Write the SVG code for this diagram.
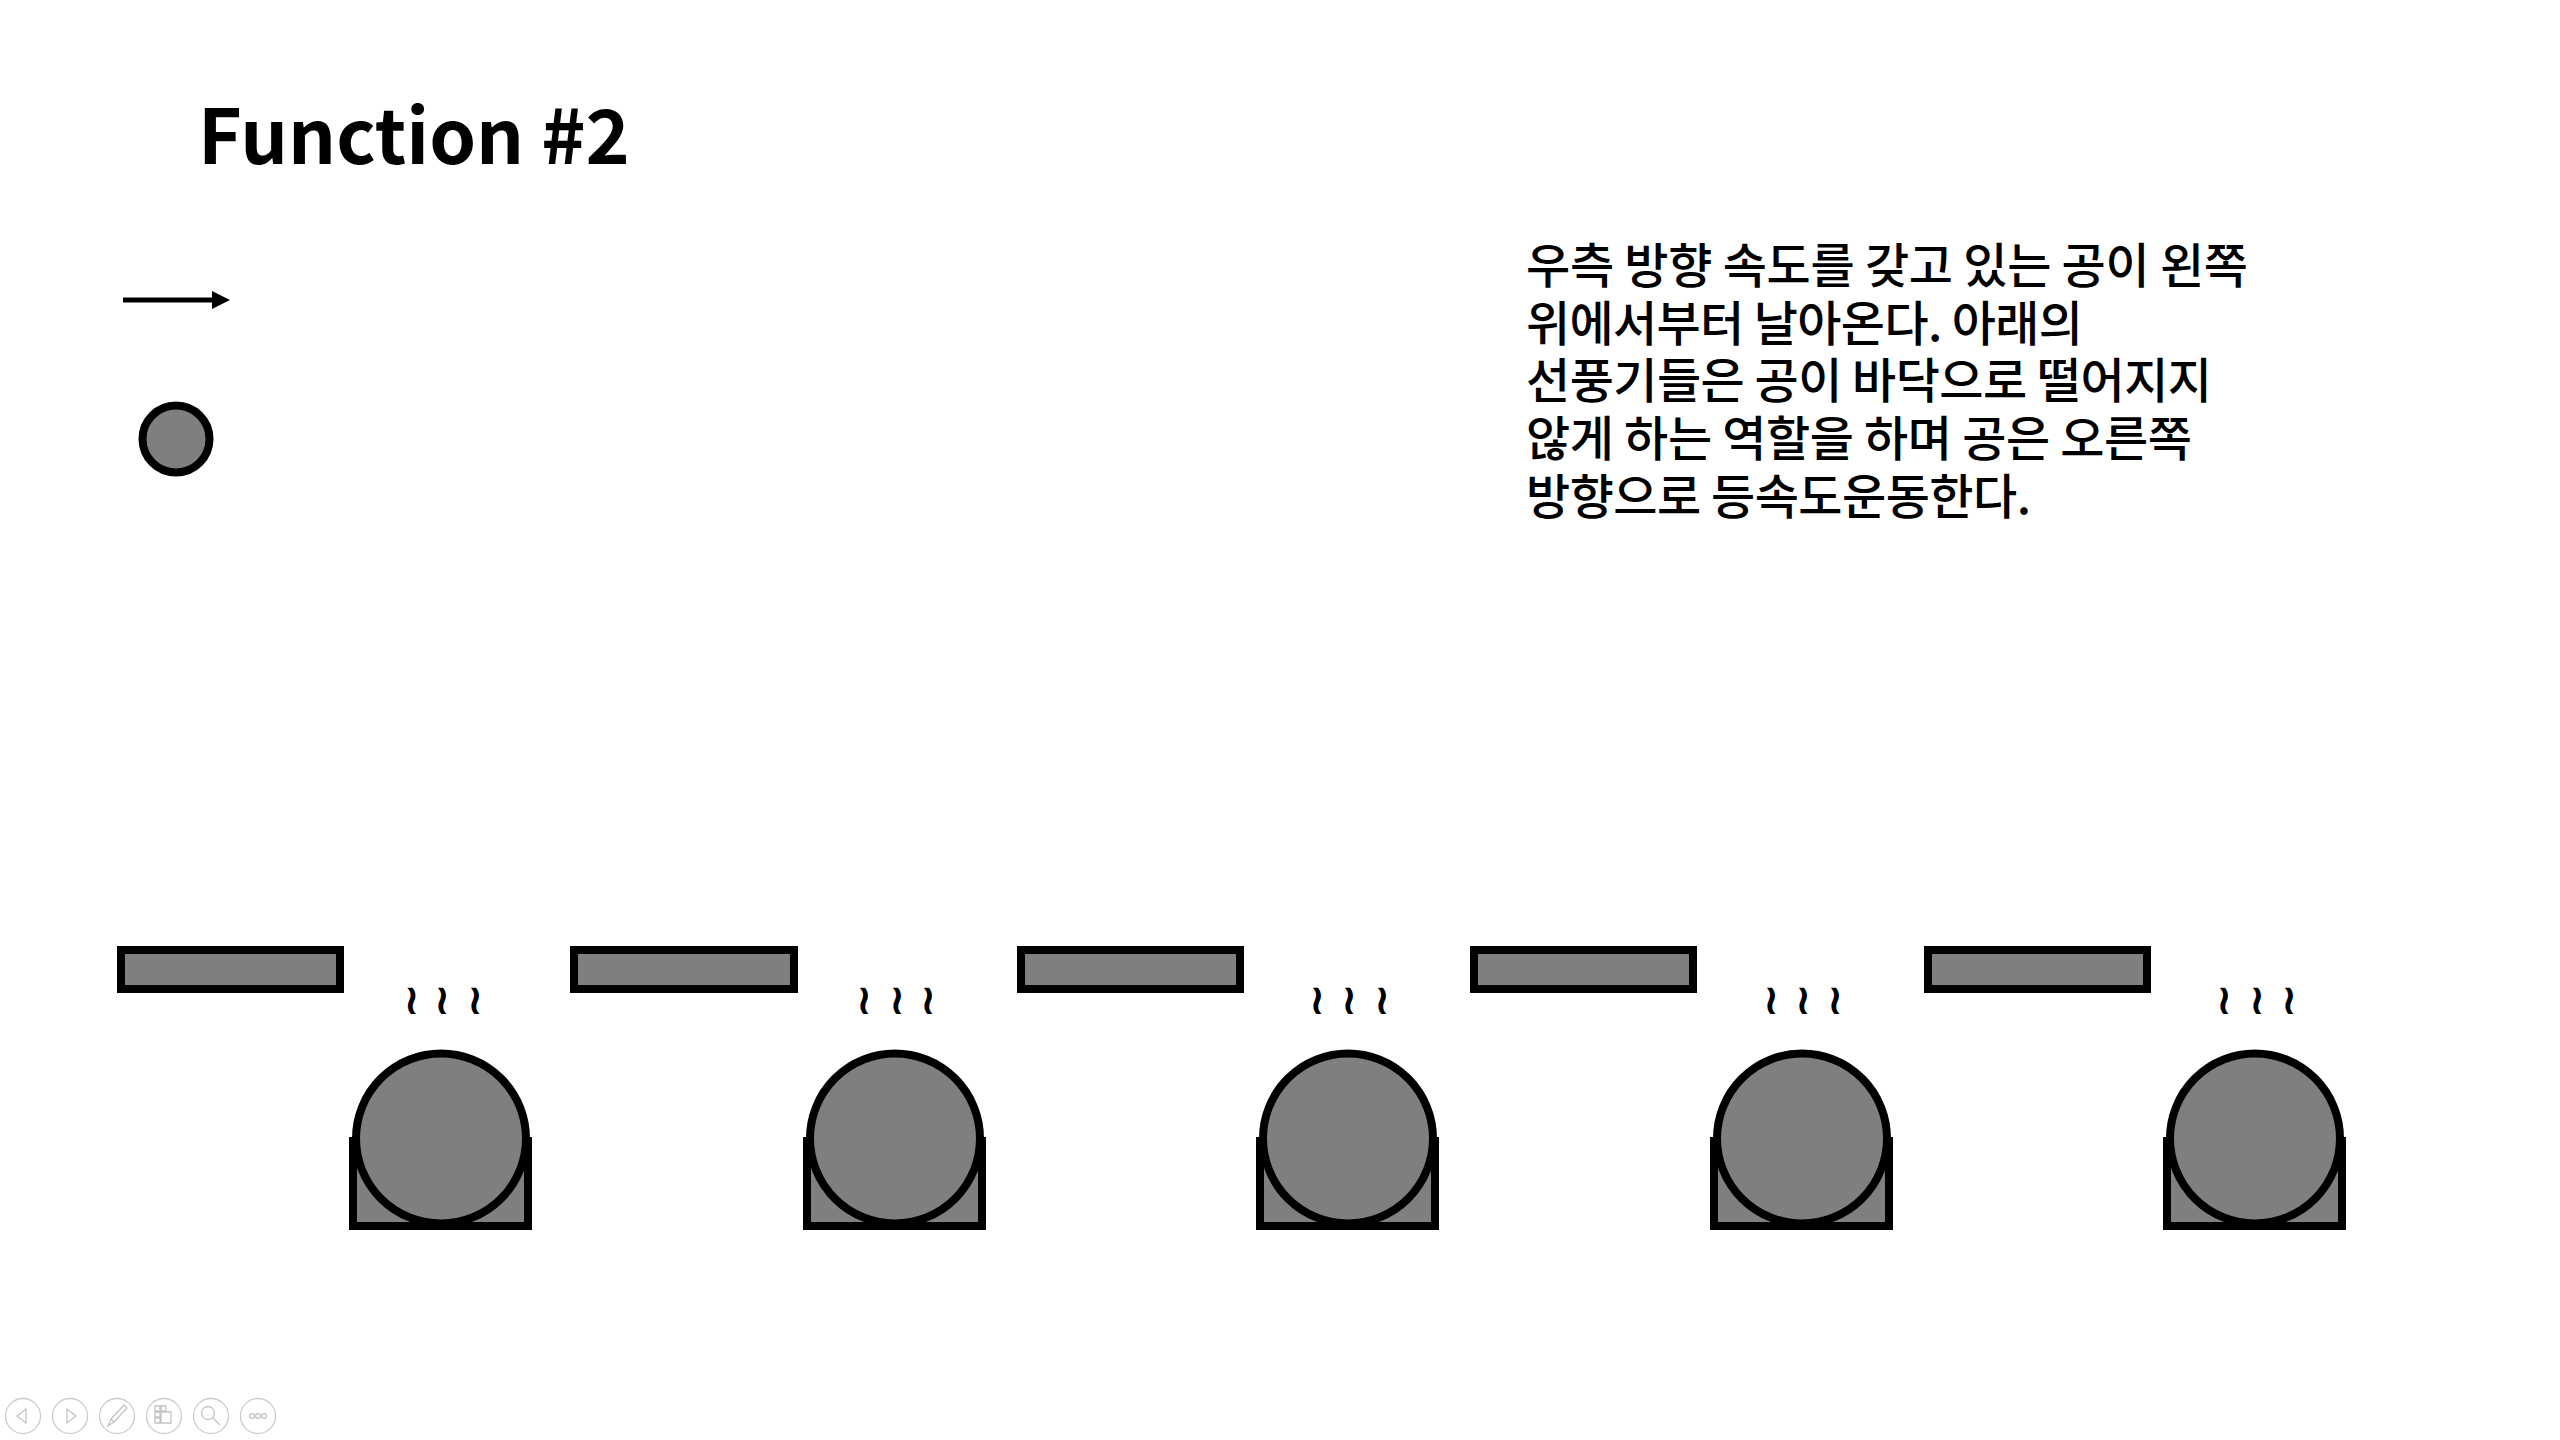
<svg xmlns="http://www.w3.org/2000/svg" width="2560" height="1440" viewBox="0 0 2560 1440">
  <defs>
    <style>
      .title { font-family: "Noto Sans CJK KR", "Noto Sans", sans-serif; font-weight: 700; font-size: 75px; fill: #000; }
      .body { font-family: "Noto Sans CJK KR", "Noto Sans", sans-serif; font-weight: 500; font-size: 48px; fill: #000; }
      .shape { fill: #7f7f7f; stroke: #000; stroke-width: 8; }
      .wind { font-family: "DejaVu Sans", sans-serif; font-weight: 700; font-size: 42px; fill: #000; text-anchor: middle; }
      .ctrl { fill: #fff; stroke: #cdcdcd; stroke-width: 1.3; }
      .ico { fill: none; stroke: #c4c4c4; stroke-width: 1.3; }
    </style>
    <marker id="arrowhead" markerWidth="18" markerHeight="18" refX="0" refY="9" orient="auto" markerUnits="userSpaceOnUse">
      <polygon points="0,0 18,9 0,18" fill="#000"/>
    </marker>
  </defs>

  <rect width="2560" height="1440" fill="#fff"/>

  <g id="title">
    <text class="title" x="198" y="164">Function #2</text>
  </g>

  <g id="description">
    <text class="body" x="1526" y="283" textLength="722" lengthAdjust="spacing">우측 방향 속도를 갖고 있는 공이 왼쪽</text>
    <text class="body" x="1526" y="341" textLength="557" lengthAdjust="spacing">위에서부터 날아온다. 아래의</text>
    <text class="body" x="1526" y="398" textLength="686" lengthAdjust="spacing">선풍기들은 공이 바닥으로 떨어지지</text>
    <text class="body" x="1526" y="456" textLength="666" lengthAdjust="spacing">않게 하는 역할을 하며 공은 오른쪽</text>
    <text class="body" x="1526" y="514" textLength="505" lengthAdjust="spacing">방향으로 등속도운동한다.</text>
  </g>

  <g id="legend-velocity">
    <line x1="123" y1="300" x2="212" y2="300" stroke="#000" stroke-width="5" marker-end="url(#arrowhead)"/>
  </g>

  <g id="legend-ball">
    <circle class="shape" cx="176" cy="439" r="33.5" stroke-width="5"/>
  </g>

  <g id="platform-1"><rect class="shape" x="121" y="950" width="219" height="39"/></g>
  <g id="platform-2"><rect class="shape" x="574" y="950" width="220" height="39"/></g>
  <g id="platform-3"><rect class="shape" x="1021" y="950" width="219" height="39"/></g>
  <g id="platform-4"><rect class="shape" x="1474" y="950" width="219" height="39"/></g>
  <g id="platform-5"><rect class="shape" x="1928" y="950" width="219" height="39"/></g>

  <g id="fan-1">
    <rect class="shape" x="353" y="1141" width="175" height="85"/>
    <circle class="shape" cx="441" cy="1138.5" r="85"/>
  </g>
  <g id="fan-2">
    <rect class="shape" x="807" y="1141" width="175" height="85"/>
    <circle class="shape" cx="895" cy="1138.5" r="85"/>
  </g>
  <g id="fan-3">
    <rect class="shape" x="1260" y="1141" width="175" height="85"/>
    <circle class="shape" cx="1348" cy="1138.5" r="85"/>
  </g>
  <g id="fan-4">
    <rect class="shape" x="1714" y="1141" width="175" height="85"/>
    <circle class="shape" cx="1802" cy="1138.5" r="85"/>
  </g>
  <g id="fan-5">
    <rect class="shape" x="2167" y="1141" width="175" height="85"/>
    <circle class="shape" cx="2255" cy="1138.5" r="85"/>
  </g>

  <g id="wind-1">
    <text class="wind" x="411.5" y="1014">≀</text>
    <text class="wind" x="442" y="1014">≀</text>
    <text class="wind" x="475" y="1014">≀</text>
  </g>
  <g id="wind-2">
    <text class="wind" x="864" y="1014">≀</text>
    <text class="wind" x="897" y="1014">≀</text>
    <text class="wind" x="928" y="1014">≀</text>
  </g>
  <g id="wind-3">
    <text class="wind" x="1317" y="1014">≀</text>
    <text class="wind" x="1349" y="1014">≀</text>
    <text class="wind" x="1382" y="1014">≀</text>
  </g>
  <g id="wind-4">
    <text class="wind" x="1771" y="1014">≀</text>
    <text class="wind" x="1803" y="1014">≀</text>
    <text class="wind" x="1835" y="1014">≀</text>
  </g>
  <g id="wind-5">
    <text class="wind" x="2224" y="1014">≀</text>
    <text class="wind" x="2257" y="1014">≀</text>
    <text class="wind" x="2289" y="1014">≀</text>
  </g>

  <g id="connectors"></g>

  <g id="slideshow-controls">
    <circle class="ctrl" cx="23" cy="1416" r="17.5"/>
    <polygon class="ico" points="26,1409 17,1416 26,1423"/>
    <circle class="ctrl" cx="70" cy="1416" r="17.5"/>
    <polygon class="ico" points="67,1409 76,1416 67,1423"/>
    <circle class="ctrl" cx="117" cy="1416" r="17.5"/>
    <path class="ico" d="M124,1405 L127,1408 L114,1422 L111,1419 Z M111,1419 L108,1426 L114,1422"/>
    <circle class="ctrl" cx="164" cy="1416" r="17.5"/>
    <path class="ico" d="M155,1406 h5 v5 h-5 Z M161,1406 h5 v5 h-5 Z M155,1412 h5 v5 h-5 Z M155,1418 h5 v5 h-5 Z M161,1412 h10 v11 h-10 Z"/>
    <circle class="ctrl" cx="211" cy="1416" r="17.5"/>
    <circle class="ico" cx="208" cy="1413" r="6.5"/>
    <line class="ico" x1="213" y1="1418" x2="220" y2="1425" stroke-width="2.5"/>
    <circle class="ctrl" cx="258" cy="1416" r="17.5"/>
    <circle class="ico" cx="252" cy="1416" r="2.3"/>
    <circle class="ico" cx="258" cy="1416" r="2.3"/>
    <circle class="ico" cx="264" cy="1416" r="2.3"/>
  </g>
</svg>
